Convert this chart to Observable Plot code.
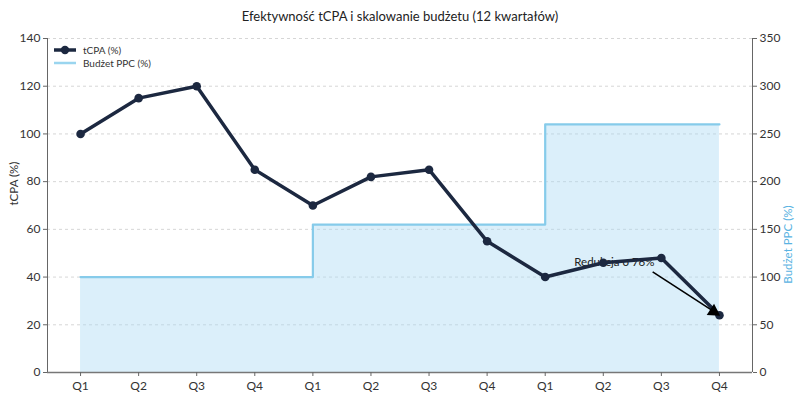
<!DOCTYPE html>
<html>
<head>
<meta charset="utf-8">
<script src="https://cdn.jsdelivr.net/npm/d3@7"></script>
<script src="https://cdn.jsdelivr.net/npm/@observablehq/plot@0.6"></script>
<style>
  body { margin: 0; background: #fff; font-family: Lato, "Noto Sans", sans-serif; }
  #wrap { position: relative; width: 800px; height: 400px; }
  #title { height: 30px; line-height: 32px; text-align: center; font-size: 13px; color: #222; }
  #legend { position: absolute; left: 53px; top: 43px; font-size: 10px; color: #333; }
  #legend div { display: flex; align-items: center; height: 13px; }
  #legend svg { margin-right: 6px; }
</style>
</head>
<body>
<div id="wrap">
  <div id="title">Efektywność tCPA i skalowanie budżetu (12 kwartałów)</div>
  <div id="legend">
    <div><svg width="24" height="10"><line x1="1" y1="5" x2="23" y2="5" stroke="#1c2840" stroke-width="3.5"/><circle cx="12" cy="5" r="4.2" fill="#1c2840"/></svg>tCPA (%)</div>
    <div><svg width="24" height="10"><line x1="1" y1="5" x2="23" y2="5" stroke="#9ad5ef" stroke-width="2.5"/></svg>Budżet PPC (%)</div>
  </div>
  <div id="chart"></div>
</div>
<script>
// Quarter labels along the x axis (three years of Q1–Q4)
const quarters = ["Q1","Q2","Q3","Q4","Q1","Q2","Q3","Q4","Q1","Q2","Q3","Q4"];
// tCPA relative to the starting quarter (%)
const tcpa = [100, 115, 120, 85, 70, 82, 85, 55, 40, 46, 48, 24];
// PPC budget relative to the starting quarter (%)
const budget = [100, 100, 100, 100, 155, 155, 155, 155, 260, 260, 260, 260];
// Left and right axis ticks
const leftTicks = [0, 20, 40, 60, 80, 100, 120, 140];
const rightTicks = [0, 50, 100, 150, 200, 250, 300, 350];

const leftMax = 140, rightMax = 350;
const k = leftMax / rightMax; // maps budget values onto the left scale

const data = quarters.map((q, i) => ({i, q, tcpa: tcpa[i], budget: budget[i]}));
const reduction = Math.round((tcpa[0] - tcpa[tcpa.length - 1]) / tcpa[0] * 100);
const last = data[data.length - 1];

const navy = "#1c2840";
const sky = "#86cbea";

// annotation arrow: shaft from below the label to the last point, filled head at the tip
const arrowShaft = [{x1: 9.85, y1: 42.2, x2: last.i - 0.1, y2: last.tcpa + 1.6}];
const arrowHead = [{x: last.i - 0.1, y: last.tcpa + 1.6}];

const chart = Plot.plot({
  width: 800,
  height: 370,
  marginTop: 8,
  marginBottom: 28,
  marginLeft: 47,
  marginRight: 48,
  style: {fontFamily: "Lato, 'Noto Sans', sans-serif", fontSize: "12px", color: "#333"},
  x: {domain: [-0.569, 11.569], axis: null},
  y: {domain: [0, leftMax], axis: null},
  marks: [
    Plot.gridY(leftTicks, {stroke: "#bbb", strokeOpacity: 0.6, strokeDasharray: "3,3"}),
    Plot.areaY(data, {x: "i", y: d => d.budget * k, curve: "step-after", fill: "#a9d8f3", fillOpacity: 0.42}),
    Plot.line(data, {x: "i", y: d => d.budget * k, curve: "step-after", stroke: sky, strokeWidth: 2.2}),
    Plot.text([{x: 8.5, y: 46.2}], {x: "x", y: "y", text: () => `Redukcja o ${reduction}%`, textAnchor: "start", fontSize: 11.5, fill: "#222"}),
    Plot.line(data, {x: "i", y: "tcpa", stroke: navy, strokeWidth: 3.5, strokeLinejoin: "round"}),
    Plot.dot(data, {x: "i", y: "tcpa", r: 4.3, fill: navy}),
    Plot.link(arrowShaft, {x1: "x1", y1: "y1", x2: "x2", y2: "y2", stroke: "#000", strokeWidth: 1.6}),
    Plot.dot(arrowHead, {x: "x", y: "y", symbol: "triangle", r: 5, fill: "#000", rotate: 123}),
    Plot.ruleX([-0.569], {stroke: "#666", strokeWidth: 1}),
    Plot.ruleX([11.569], {stroke: "#666", strokeWidth: 1}),
    Plot.ruleY([0], {stroke: "#777", strokeWidth: 1.6}),
    Plot.axisY(leftTicks, {anchor: "left", tickSize: 4, tickPadding: 3, stroke: "#666", label: null}),
    Plot.axisY(leftTicks, {anchor: "right", tickSize: 4, tickPadding: 3, stroke: "#666", label: null, tickFormat: d => d / k}),
    Plot.axisX(d3.range(quarters.length), {anchor: "bottom", tickSize: 4, tickPadding: 5, stroke: "#666", label: null, tickFormat: i => quarters[i]}),
    Plot.text(["tCPA (%)"], {frameAnchor: "left", dx: -33, rotate: -90, fontSize: 11.5, fill: "#333"}),
    Plot.text(["Budżet PPC (%)"], {frameAnchor: "right", dx: 36, rotate: -90, fontSize: 11.5, fill: "#5ab3e2"})
  ]
});
document.getElementById("chart").append(chart);
</script>
</body>
</html>
